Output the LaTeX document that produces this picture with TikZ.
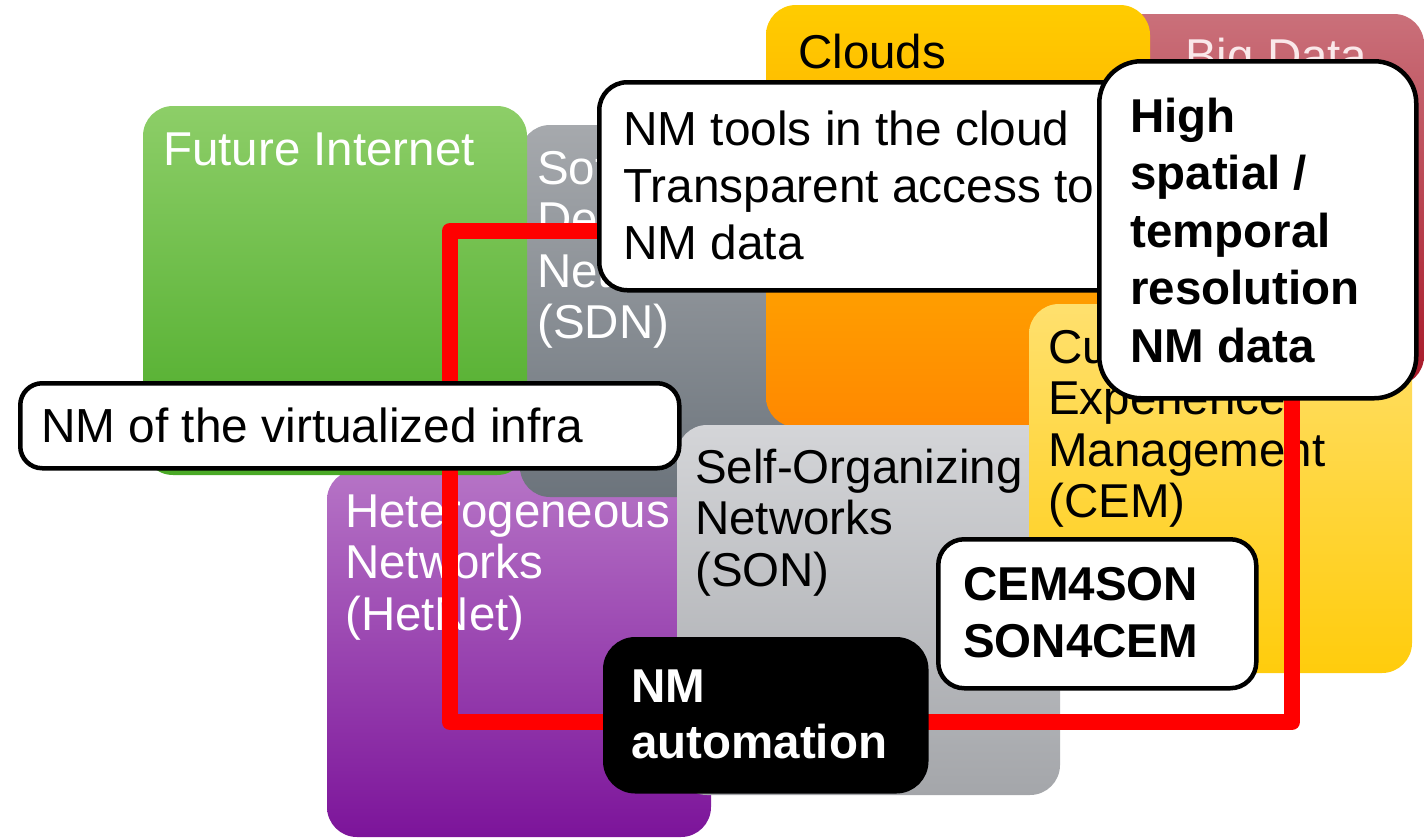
\documentclass[tikz,border=0pt]{standalone}
\usepackage{fontspec}
\setmainfont{Liberation Sans}
\newcommand\stack[1]{\begin{tabular}[t]{@{}l@{}}#1\end{tabular}}

\definecolor{greenT}{RGB}{141,206,104}
\definecolor{greenB}{RGB}{74,170,38}
\definecolor{sdnT}{RGB}{166,169,173}
\definecolor{sdnB}{RGB}{108,116,124}
\definecolor{purpT}{RGB}{182,116,198}
\definecolor{purpB}{RGB}{124,20,154}
\definecolor{cloudT}{RGB}{255,204,0}
\definecolor{cloudB}{RGB}{255,136,0}
\definecolor{bigT}{RGB}{202,112,122}
\definecolor{bigB}{RGB}{168,24,40}
\definecolor{bigTxt}{RGB}{250,232,234}
\definecolor{sonT}{RGB}{212,213,216}
\definecolor{sonB}{RGB}{164,166,170}
\definecolor{cemT}{RGB}{255,224,110}
\definecolor{cemB}{RGB}{255,204,12}

\begin{document}
\begin{tikzpicture}[x=1pt,y=-1pt,
  area/.style={anchor=north west, inner sep=0pt, outer sep=0pt, rounded corners=30pt},
  boxtext/.style={anchor=base west, inner sep=0pt, font=\fontsize{47.5}{51.5}\selectfont},
  calltext/.style={anchor=base west, inner sep=0pt, font=\fontsize{47.8}{57}\selectfont},
  callout/.style={anchor=north west, inner sep=0pt, draw=black, line width=4.5pt, fill=white, rounded corners=28pt},
  frame/.style={draw=red, line width=16pt, line join=round}]

\useasboundingbox (0,0) rectangle (1424,838);

% topic areas, back to front
\node[area, top color=purpT, bottom color=purpB, minimum width=384pt, minimum height=367pt] (hetnet) at (327,470) {};
\node[boxtext, text=white] (hetnetTxt) at (345,527) {\stack{Heterogeneous\\Networks\\(HetNet)}};

\node[area, top color=sdnT, bottom color=sdnB, minimum width=384pt, minimum height=372pt] (sdn) at (520,125) {};
\node[boxtext, text=white] (sdnTxt) at (537,184) {\stack{Software\\Defined\\Networks\\(SDN)}};

\node[area, top color=greenT, bottom color=greenB, minimum width=384pt, minimum height=369pt] (fi) at (143,106) {};
\node[boxtext, text=white] (fiTxt) at (163,165) {Future Internet};

\node[area, top color=bigT, bottom color=bigB, minimum width=384pt, minimum height=372pt] (bigdata) at (1040,14) {};
\node[boxtext, text=bigTxt] (bigdataTxt) at (1185,72) {Big Data};

\node[area, top color=cloudT, bottom color=cloudB, minimum width=384pt, minimum height=422pt] (clouds) at (766,5) {};
\node[boxtext] (cloudsTxt) at (798,68) {Clouds};

\node[area, top color=sonT, bottom color=sonB, minimum width=383pt, minimum height=370pt] (son) at (677,425) {};
\node[boxtext] (sonTxt) at (695,483) {\stack{Self-Organizing\\Networks\\(SON)}};

\node[area, top color=cemT, bottom color=cemB, minimum width=383pt, minimum height=369pt] (cem) at (1029,304) {};
\node[boxtext] (cemTxt) at (1048,363) {\stack{Customer\\Experience\\Management\\(CEM)}};

% red frame linking the network-management topics
\coordinate (frameTL) at (450,231);
\coordinate (frameBR) at (1292,722);
\draw[frame] (frameTL) rectangle (frameBR);

% callouts
\node[callout, minimum width=541pt, minimum height=208pt] (cloudtools) at (597,80) {};
\node[calltext] (cloudtoolsTxt) at (623,145) {\stack{NM tools in the cloud\\Transparent access to\\NM data}};

\node[callout, rounded corners=42pt, minimum width=317pt, minimum height=337pt] (hires) at (1097,59) {};
\node[calltext, font=\fontsize{47.5}{57.5}\selectfont\bfseries] (hiresTxt) at (1130,132) {\stack{High\\spatial /\\temporal\\resolution\\NM data}};

\node[callout, rounded corners=22pt, minimum width=659pt, minimum height=85pt] (virt) at (18,381) {};
\node[calltext] (virtTxt) at (41,442) {NM of the virtualized infra};

\node[callout, rounded corners=26pt, minimum width=318pt, minimum height=149pt] (cemson) at (936,537) {};
\node[calltext, font=\fontsize{47.5}{57}\selectfont\bfseries] (cemsonTxt) at (963,600) {\stack{CEM4SON\\SON4CEM}};

\node[callout, fill=black, rounded corners=30pt, minimum width=321pt, minimum height=152pt] (auto) at (603,637) {};
\node[calltext, text=white, font=\fontsize{47.5}{56}\selectfont\bfseries] (autoTxt) at (631,702) {\stack{NM\\automation}};

\end{tikzpicture}
\end{document}
